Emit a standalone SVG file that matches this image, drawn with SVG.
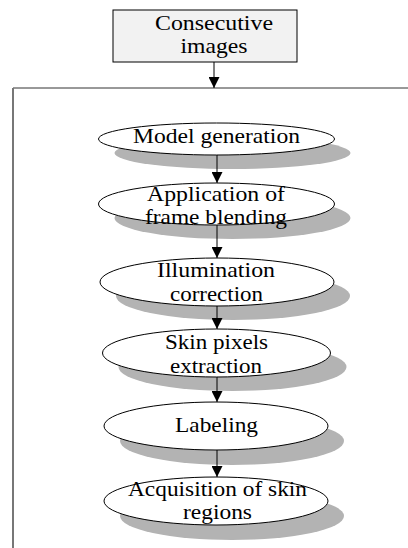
<svg xmlns="http://www.w3.org/2000/svg" width="408" height="548" viewBox="0 0 408 548">
<style>
text{font-family:"Liberation Serif","Times New Roman",serif;font-size:21px;fill:#000;text-anchor:middle}
.el{fill:#fff;stroke:#000;stroke-width:1}
.sh{fill:#b3b3b3;stroke:none}
.conn{stroke:#000;stroke-width:1;fill:none;marker-end:url(#ah)}
</style>
<defs>
<marker id="ah" markerUnits="userSpaceOnUse" markerWidth="11" markerHeight="11" refX="11" refY="5.5" orient="auto">
<path d="M0,0 L11,5.5 L0,11 z" fill="#000"/>
</marker>
</defs>
<rect width="408" height="548" fill="#fff"/>
<g id="frame">
<line x1="13" y1="88" x2="408" y2="88" stroke="#333" stroke-width="1"/>
<line x1="13" y1="88" x2="13" y2="548" stroke="#777" stroke-width="2"/>
</g>
<g id="shadows">
<ellipse class="sh" cx="232.5" cy="153" rx="118" ry="16"/>
<ellipse class="sh" cx="232.5" cy="218" rx="118" ry="21"/>
<ellipse class="sh" cx="233" cy="296" rx="117" ry="24"/>
<ellipse class="sh" cx="232.5" cy="367" rx="114" ry="24"/>
<ellipse class="sh" cx="232" cy="441" rx="112" ry="24"/>
<ellipse class="sh" cx="232" cy="516" rx="112" ry="24"/>
</g>
<g id="connectors">
<line class="conn" x1="214" y1="62" x2="214" y2="88"/>
<line class="conn" x1="217" y1="155" x2="217" y2="183"/>
<line class="conn" x1="217" y1="225" x2="217" y2="258"/>
<line class="conn" x1="217" y1="306" x2="217" y2="329"/>
<line class="conn" x1="217" y1="377" x2="217" y2="402"/>
<line class="conn" x1="217" y1="450" x2="217" y2="477"/>
</g>
<g id="consecutive-images">
<rect x="113" y="10" width="184" height="52" fill="#f2f2f2" stroke="#000" stroke-width="1"/>
<text x="214" y="30" textLength="118" lengthAdjust="spacingAndGlyphs">Consecutive</text>
<text x="214" y="53" textLength="67" lengthAdjust="spacingAndGlyphs">images</text>
</g>
<g id="model-generation">
<ellipse class="el" cx="216.5" cy="139" rx="118" ry="16"/>
<text x="216.5" y="143" textLength="167" lengthAdjust="spacingAndGlyphs">Model generation</text>
</g>
<g id="frame-blending">
<ellipse class="el" cx="216.5" cy="204" rx="118" ry="21"/>
<text x="216" y="201" textLength="138" lengthAdjust="spacingAndGlyphs">Application of</text>
<text x="216" y="224" textLength="142" lengthAdjust="spacingAndGlyphs">frame blending</text>
</g>
<g id="illumination-correction">
<ellipse class="el" cx="217" cy="282" rx="117" ry="24"/>
<text x="216" y="277" textLength="118" lengthAdjust="spacingAndGlyphs">Illumination</text>
<text x="216.5" y="301" textLength="93" lengthAdjust="spacingAndGlyphs">correction</text>
</g>
<g id="skin-pixels-extraction">
<ellipse class="el" cx="216.5" cy="353" rx="114" ry="24"/>
<text x="216.5" y="349" textLength="103" lengthAdjust="spacingAndGlyphs">Skin pixels</text>
<text x="216" y="373" textLength="92" lengthAdjust="spacingAndGlyphs">extraction</text>
</g>
<g id="labeling">
<ellipse class="el" cx="216" cy="426" rx="112" ry="24"/>
<text x="216.5" y="432" textLength="83" lengthAdjust="spacingAndGlyphs">Labeling</text>
</g>
<g id="skin-regions">
<ellipse class="el" cx="216" cy="501" rx="112" ry="24"/>
<text x="217.5" y="496" textLength="179" lengthAdjust="spacingAndGlyphs">Acquisition of skin</text>
<text x="217.5" y="519" textLength="69" lengthAdjust="spacingAndGlyphs">regions</text>
</g>
</svg>
